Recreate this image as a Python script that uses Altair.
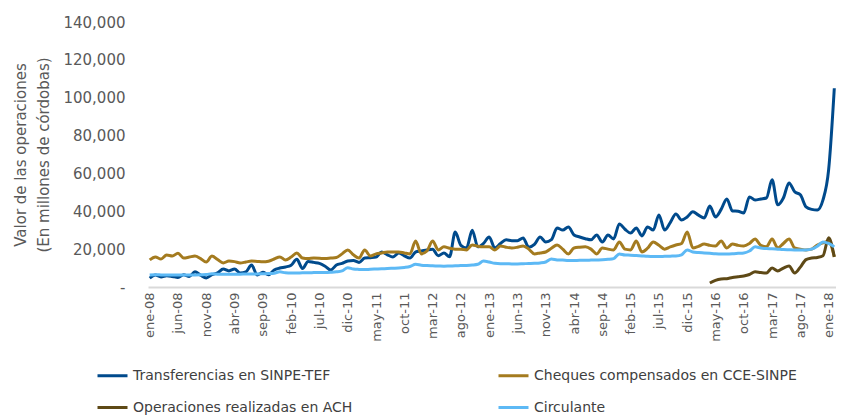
import altair as alt
import pandas as pd

abbr = ["ene", "feb", "mar", "abr", "may", "jun", "jul", "ago", "sep", "oct", "nov", "dic"]
meses = [f"{m}-{y:02d}" for y in range(8, 19) for m in abbr][:122]

tick_labels = ["ene-08", "jun-08", "nov-08", "abr-09", "sep-09", "feb-10", "jul-10", "dic-10",
               "may-11", "oct-11", "mar-12", "ago-12", "ene-13", "jun-13", "nov-13", "abr-14",
               "sep-14", "feb-15", "jul-15", "dic-15", "may-16", "oct-16", "mar-17", "ago-17", "ene-18"]

series = ["Transferencias en SINPE-TEF", "Cheques compensados en CCE-SINPE",
          "Operaciones realizadas en ACH", "Circulante"]
colors = {"Transferencias en SINPE-TEF": "#004A8C",
          "Cheques compensados en CCE-SINPE": "#A47B1F",
          "Operaciones realizadas en ACH": "#5E4916",
          "Circulante": "#5DB9F5"}
# legend fills column by column: order so rows read T | C  and  ACH | Circulante
legend_order = [series[0], series[2], series[1], series[3]]

transferencias = [
    4700, 6300, 5300, 6000, 5600, 5000, 6500, 5600, 8000, 6200, 4800, 6500,
    7500, 9500, 8500, 9500, 7400, 8000, 11600, 6300, 7800, 6500, 9000, 10000,
    10600, 11500, 14600, 9800, 13500, 13000, 12500, 11000, 9000, 11600, 12500, 13700,
    14000, 13000, 15300, 15500, 15800, 18500, 17000, 15900, 18000, 16500, 15300, 18500,
    19000, 19600, 20000, 16500, 18000, 16000, 29000, 22000, 20600, 30000, 21200, 23000,
    26400, 20600, 23000, 24900, 24500, 24500, 25900, 21000, 22500, 26400, 23800, 25000,
    31200, 30100, 31700, 27500, 26400, 25500, 24900, 27500, 23800, 27500, 25400, 33300,
    30500, 28500, 31200, 27000, 31700, 30100, 38100, 30100, 34000, 38600, 35400, 37000,
    39700, 38000, 36500, 42800, 37000, 41000, 46500, 40200, 40000, 39100, 47600, 46000,
    46500, 47000, 56600, 43400, 47000, 55000, 50300, 48700, 42300, 41000, 40700, 46000,
    62000, 105000]

cheques = [
    14300, 15900, 14800, 16900, 16400, 17800, 15300, 15800, 16400, 15000, 13200, 16400,
    14500, 12700, 13700, 13400, 12700, 13200, 13700, 13500, 13300, 13600, 14800, 15900,
    14300, 15800, 18000, 15300, 15000, 15300, 15200, 15000, 15300, 15600, 17500, 19600,
    17000, 15300, 19600, 16400, 17500, 18000, 18500, 18500, 18500, 18000, 17500, 24300,
    17500, 19000, 24300, 19600, 21200, 20500, 20000, 20000, 19600, 22200, 21500, 21200,
    21200, 19600, 21700, 21000, 20600, 21000, 21700, 20000, 17500, 18000, 18500, 20500,
    22200, 20000, 17500, 20600, 21000, 21200, 20000, 17500, 20600, 20000, 19600, 23800,
    20000, 19600, 24300, 18500, 20500, 23800, 22000, 20000, 21200, 22200, 23000, 29100,
    20600, 21500, 22700, 22000, 21700, 24300, 20600, 22700, 22000, 21700, 23000, 25400,
    22000, 21200, 25400, 20600, 23000, 25400, 20600, 20000, 19600, 20000, 22200, 23300,
    24000, 15900]

ach_start = "abr-16"
ach = [2100, 3500, 4200, 4400, 5000, 5400, 5800, 6600, 8000, 7600, 7400, 10000,
       8500, 10000, 11100, 7400, 10500, 14500, 15300, 15600, 16500, 26000, 15900]

circulante = [
    6300, 6500, 6400, 6300, 6300, 6400, 6400, 6300, 6400, 6500, 6600, 7000,
    6800, 6700, 6700, 6800, 6800, 6900, 6900, 6900, 7000, 7100, 7300, 8000,
    7500, 7400, 7400, 7500, 7500, 7600, 7700, 7700, 7800, 8000, 8500, 10200,
    9500, 9300, 9200, 9400, 9500, 9600, 9800, 9900, 10000, 10300, 10800, 12000,
    11500, 11300, 11200, 11100, 11000, 11100, 11200, 11300, 11400, 11600, 12000, 13700,
    13200, 12500, 12300, 12300, 12200, 12200, 12300, 12400, 12500, 12700, 13200, 14800,
    14300, 14200, 14000, 14000, 14100, 14100, 14200, 14300, 14400, 14600, 15000, 17500,
    16900, 16800, 16600, 16400, 16200, 16100, 16100, 16200, 16300, 16400, 17000, 19600,
    18500, 18200, 18000, 17800, 17600, 17500, 17500, 17600, 17800, 18000, 19000, 21200,
    20600, 20300, 20200, 20000, 19800, 19700, 19600, 19600, 19600, 20000, 21500, 23800,
    23000, 21200]

rows = []
for m, v in zip(meses, transferencias):
    rows.append({"mes": m, "serie": series[0], "valor": v})
for m, v in zip(meses, cheques):
    rows.append({"mes": m, "serie": series[1], "valor": v})
s = meses.index(ach_start)
for m, v in zip(meses[s:], ach):
    rows.append({"mes": m, "serie": series[2], "valor": v})
for m, v in zip(meses, circulante):
    rows.append({"mes": m, "serie": series[3], "valor": v})
df = pd.DataFrame(rows)

FONT = "DejaVu Sans"
GRAY = "#595959"

chart = alt.Chart(df).mark_line(strokeWidth=3, interpolate="monotone").encode(
    x=alt.X("mes:O", sort=meses,
            scale=alt.Scale(type="point", padding=0.3),
            axis=alt.Axis(values=tick_labels, labelAngle=-90, labelAlign="right",
                          labelBaseline="middle", labelPadding=5, ticks=False,
                          domainColor="#D9D9D9", domainWidth=2, labelOverlap=False,
                          labelFont=FONT, labelFontSize=13, labelColor=GRAY, title=None)),
    y=alt.Y("valor:Q",
            scale=alt.Scale(domain=[0, 140000]),
            axis=alt.Axis(values=[0, 20000, 40000, 60000, 80000, 100000, 120000, 140000],
                          labelExpr="datum.value == 0 ? '-' : format(datum.value, ',')",
                          grid=False, domain=False, ticks=False, labelPadding=23,
                          labelFont=FONT, labelFontSize=15, labelColor=GRAY,
                          title=["Valor de las operaciones", "(En millones de córdobas)"],
                          titleFont=FONT, titleFontSize=15, titleFontWeight="normal",
                          titleColor=GRAY, titlePadding=11, titleLineHeight=23)),
    color=alt.Color("serie:N",
                    scale=alt.Scale(domain=legend_order,
                                    range=[colors[k] for k in legend_order]),
                    legend=alt.Legend(orient="none", legendX=-52, legendY=337, columns=2,
                                      columnPadding=139, rowPadding=8, title=None,
                                      symbolType="stroke", symbolSize=900,
                                      symbolStrokeWidth=3, labelOffset=4,
                                      labelFont=FONT, labelFontSize=14,
                                      labelColor="#404040", labelLimit=400)),
    detail=alt.Detail("serie:N"),
).properties(
    width=688, height=265,
    autosize=alt.AutoSizeParams(type="none"),
    padding={"left": 140, "top": 14, "right": 0, "bottom": 130},
    background="white",
).configure_view(stroke=None)

chart.save("out.html", embed_options={"renderer": "svg", "actions": False})
